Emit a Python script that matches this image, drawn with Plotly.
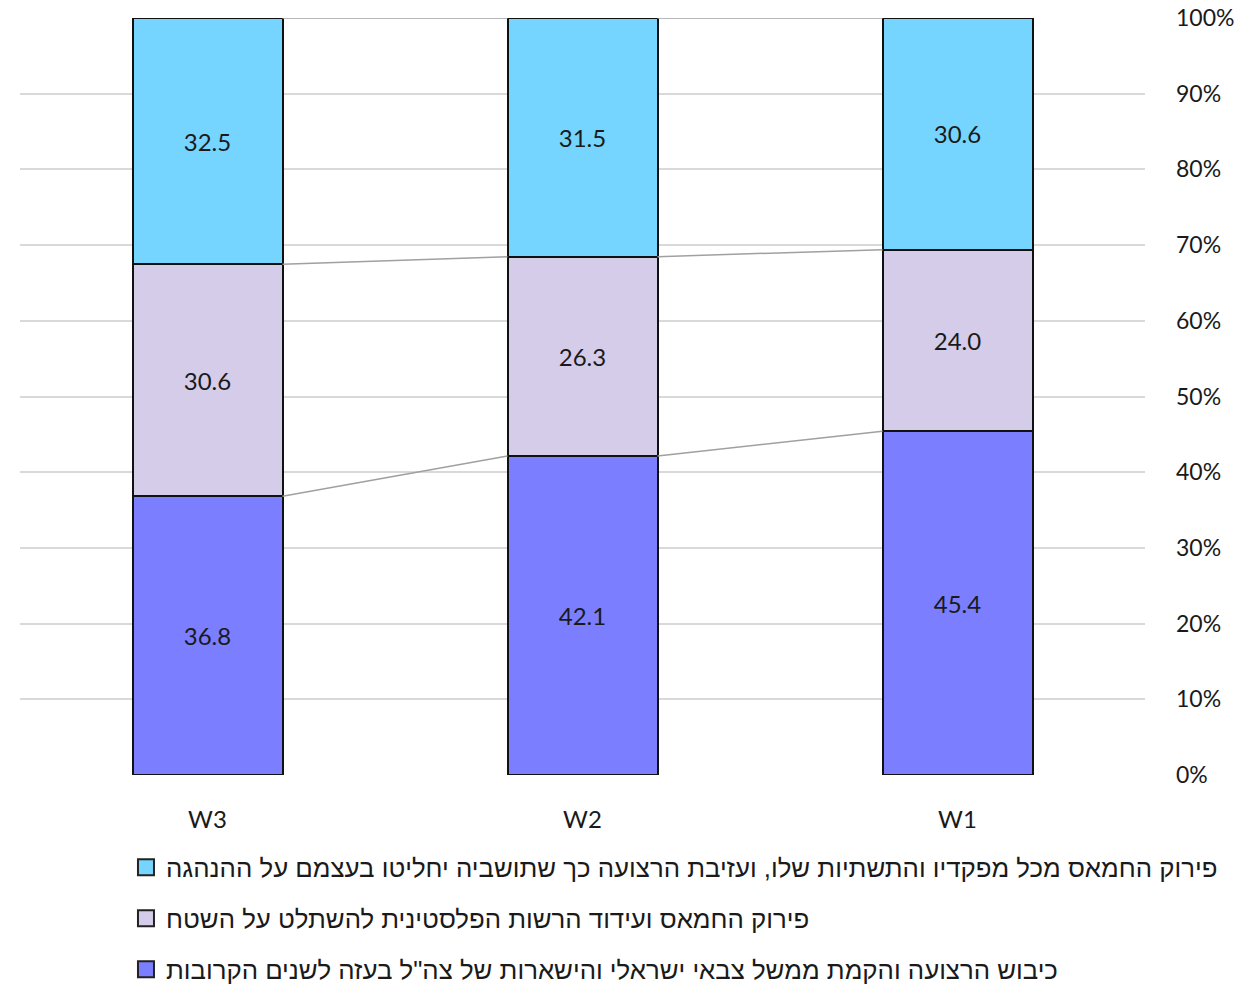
import plotly.graph_objects as go
import numpy as np

categories = ["W3", "W2", "W1"]
series_names = [
    "כיבוש הרצועה והקמת ממשל צבאי ישראלי והישארות של צה\"ל בעזה לשנים הקרובות",
    "פירוק החמאס ועידוד הרשות הפלסטינית להשתלט על השטח",
    "פירוק החמאס מכל מפקדיו והתשתיות שלו, ועזיבת הרצועה כך שתושביה יחליטו בעצמם על ההנהגה",
]
occupy = [36.8, 42.1, 45.4]
pa_takeover = [30.6, 26.3, 24.0]
leave = [32.5, 31.5, 30.6]
tick_vals = [0, 10, 20, 30, 40, 50, 60, 70, 80, 90, 100]
tick_text = [f"{v}%" for v in tick_vals]

colors = ["#7B7FFF", "#D5CCEA", "#75D5FF"]
series = [occupy, pa_takeover, leave]
legend_ranks = [3, 2, 1]
bar_w = 0.4
xpos = np.arange(len(categories))
num_font = "Lato, Liberation Sans, sans-serif"

fig = go.Figure()
for name, vals, col in zip(series_names, series, colors):
    fig.add_trace(go.Bar(
        x=xpos, y=vals, name=name, width=bar_w,
        marker=dict(color=col, line=dict(color="#111111", width=2)),
        text=[f"{v:.1f}" for v in vals], textposition="inside",
        insidetextanchor="middle", textangle=0,
        textfont=dict(size=24, color="#1a1a1a", family=num_font),
        showlegend=False, hoverinfo="skip",
    ))

# legend entries (square swatches)
for name, col, rank in zip(series_names, colors, legend_ranks):
    fig.add_trace(go.Scatter(
        x=[None], y=[None], mode="markers", name=name,
        marker=dict(symbol="square", size=16, color=col, line=dict(color="#222222", width=2)),
        legendgroup=name, legendrank=rank, showlegend=True,
    ))

# series connector lines between bars (normalized cumulative tops)
totals = np.sum(np.array(series), axis=0)
cum = np.cumsum(np.array(series), axis=0) / totals * 100
for row in cum:
    for i in range(len(categories) - 1):
        fig.add_trace(go.Scatter(
            x=[xpos[i] + bar_w / 2, xpos[i + 1] - bar_w / 2],
            y=[row[i], row[i + 1]], mode="lines",
            line=dict(color="#A0A0A0", width=1.5),
            showlegend=False, hoverinfo="skip",
        ))

fig.update_layout(
    barmode="stack", barnorm="percent",
    width=1242, height=987,
    margin=dict(l=20, r=97, t=18, b=212, autoexpand=False),
    plot_bgcolor="white", paper_bgcolor="white",
    font=dict(family=num_font, size=21, color="#1a1a1a"),
    xaxis=dict(range=[-0.5, 2.5], tickvals=list(xpos), ticktext=categories,
               showgrid=False, zeroline=False, showline=False, ticks="",
               ticklabelstandoff=28, tickfont=dict(size=24)),
    yaxis=dict(side="right", range=[0, 100], tickvals=tick_vals, ticktext=tick_text,
               showgrid=True, gridcolor="#D9D9D9", gridwidth=2, zeroline=False,
               showline=False, ticks="", ticklabelstandoff=30, tickfont=dict(size=23)),
    showlegend=True,
    legend=dict(orientation="v", traceorder="grouped", tracegroupgap=14.5,
                itemsizing="trace",
                x=0.0942, xanchor="left", yref="container", y=0.145, yanchor="top",
                font=dict(size=25.8, family="Liberation Sans, sans-serif"),
                bgcolor="rgba(0,0,0,0)"),
)

fig.write_html("out.html", config={"displayModeBar": False},
               post_script="document.body.style.margin='0';")
